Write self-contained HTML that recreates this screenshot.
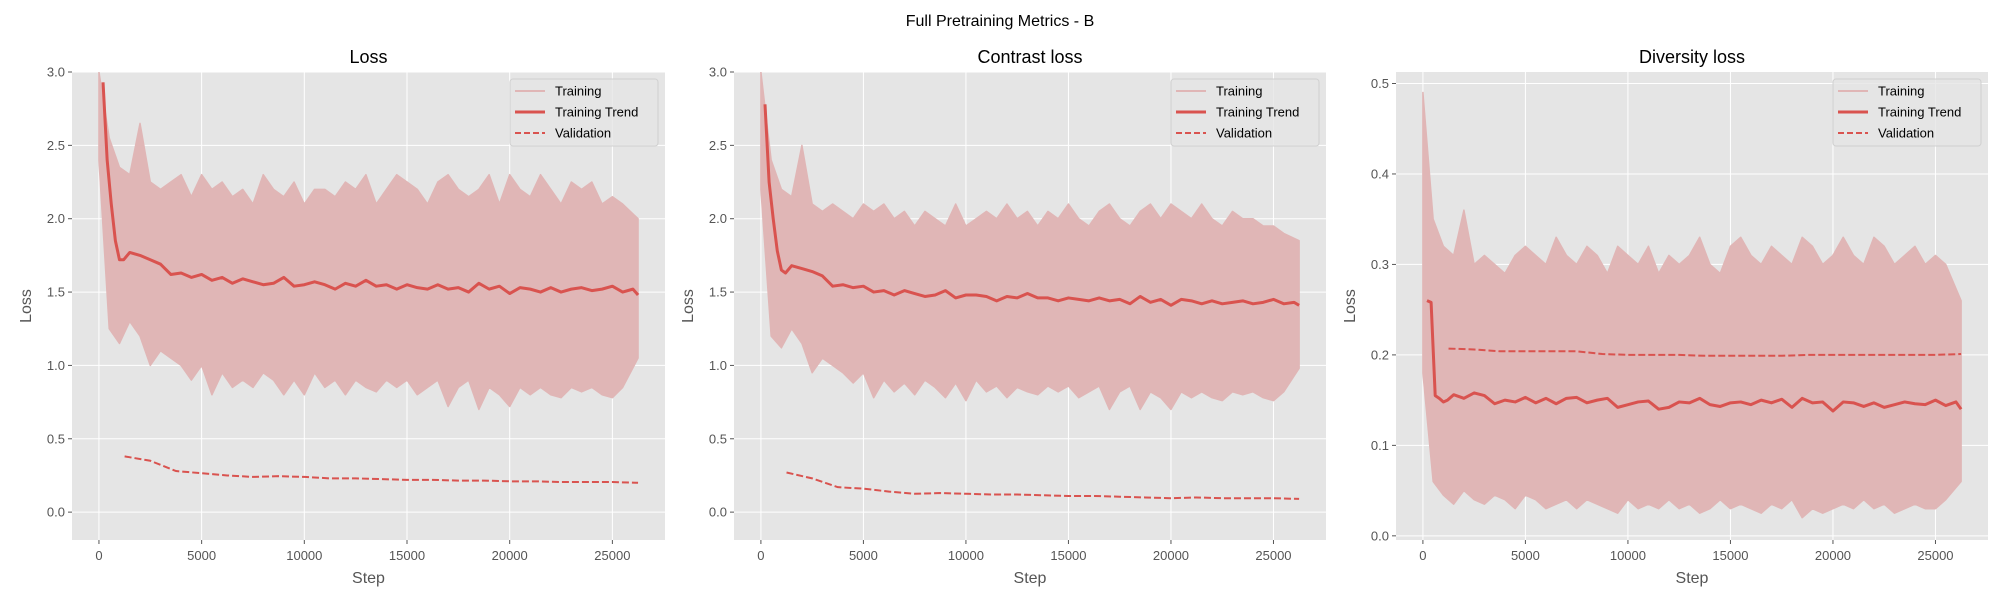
<!DOCTYPE html>
<html><head><meta charset="utf-8"><style>
html,body{margin:0;padding:0;background:#fff;}
svg{display:block;font-family:"Liberation Sans","DejaVu Sans",sans-serif;}
</style></head><body>
<svg id="fig" width="2000" height="600" viewBox="0 0 2000 600">
<text x="1000" y="26" text-anchor="middle" font-size="16" fill="#000">Full Pretraining Metrics - B</text>
</svg>
<script>
const trendSteps=[200,400,600,800,1000,1200,1500,2000,2500,3000,3500,4000,4500,5000,5500,6000,6500,7000,7500,8000,8500,9000,9500,10000,10500,11000,11500,12000,12500,13000,13500,14000,14500,15000,15500,16000,16500,17000,17500,18000,18500,19000,19500,20000,20500,21000,21500,22000,22500,23000,23500,24000,24500,25000,25500,26000,26250];
const valSteps=[1250,2500,3750,5000,6250,7500,8750,10000,11250,12500,13750,15000,16250,17500,18750,20000,21250,22500,23750,25000,26250];
const bandSteps=[0,500,1000,1500,2000,2500,3000,3500,4000,4500,5000,5500,6000,6500,7000,7500,8000,8500,9000,9500,10000,10500,11000,11500,12000,12500,13000,13500,14000,14500,15000,15500,16000,16500,17000,17500,18000,18500,19000,19500,20000,20500,21000,21500,22000,22500,23000,23500,24000,24500,25000,25500,26250];
const xTicks=[0,5000,10000,15000,20000,25000];

const lossHi=[3.0,2.55,2.35,2.3,2.65,2.25,2.2,2.25,2.3,2.15,2.3,2.2,2.25,2.15,2.2,2.1,2.3,2.2,2.15,2.25,2.1,2.2,2.2,2.15,2.25,2.2,2.3,2.1,2.2,2.3,2.25,2.2,2.1,2.25,2.3,2.2,2.15,2.2,2.3,2.1,2.3,2.2,2.15,2.3,2.2,2.1,2.25,2.2,2.25,2.1,2.15,2.1,2.0];
const lossLo=[2.4,1.25,1.15,1.3,1.2,1.0,1.1,1.05,1.0,0.9,1.0,0.8,0.95,0.85,0.9,0.85,0.95,0.9,0.8,0.9,0.8,0.95,0.85,0.9,0.8,0.9,0.85,0.82,0.9,0.85,0.9,0.8,0.85,0.9,0.72,0.85,0.9,0.7,0.85,0.8,0.72,0.85,0.8,0.85,0.8,0.78,0.85,0.82,0.85,0.8,0.78,0.85,1.05];
const lossTrend=[2.93,2.4,2.1,1.85,1.72,1.72,1.77,1.75,1.72,1.69,1.62,1.63,1.6,1.62,1.58,1.6,1.56,1.59,1.57,1.55,1.56,1.6,1.54,1.55,1.57,1.55,1.52,1.56,1.54,1.58,1.54,1.55,1.52,1.55,1.53,1.52,1.55,1.52,1.53,1.5,1.56,1.52,1.54,1.49,1.53,1.52,1.5,1.53,1.5,1.52,1.53,1.51,1.52,1.54,1.5,1.52,1.48];
const lossVal=[0.38,0.35,0.28,0.265,0.25,0.24,0.245,0.24,0.23,0.23,0.225,0.22,0.22,0.215,0.215,0.21,0.21,0.205,0.205,0.205,0.2];

const conHi=[3.0,2.4,2.2,2.15,2.5,2.1,2.05,2.1,2.05,2.0,2.1,2.05,2.1,2.0,2.05,1.95,2.05,2.0,1.95,2.1,1.95,2.0,2.05,2.0,2.1,2.0,2.05,1.95,2.05,2.0,2.1,2.0,1.95,2.05,2.1,2.0,1.95,2.05,2.1,2.0,2.1,2.05,2.0,2.1,2.0,1.95,2.05,2.0,2.0,1.95,1.95,1.9,1.85];
const conLo=[2.2,1.2,1.12,1.25,1.15,0.95,1.05,1.0,0.95,0.88,0.95,0.78,0.9,0.82,0.88,0.8,0.9,0.85,0.78,0.88,0.76,0.9,0.82,0.86,0.78,0.85,0.82,0.8,0.86,0.82,0.86,0.78,0.82,0.86,0.7,0.82,0.86,0.7,0.82,0.78,0.7,0.82,0.78,0.82,0.78,0.76,0.82,0.8,0.82,0.78,0.76,0.82,0.98];
const conTrend=[2.78,2.25,2.0,1.78,1.65,1.63,1.68,1.66,1.64,1.61,1.54,1.55,1.53,1.54,1.5,1.51,1.48,1.51,1.49,1.47,1.48,1.51,1.46,1.48,1.48,1.47,1.44,1.47,1.46,1.49,1.46,1.46,1.44,1.46,1.45,1.44,1.46,1.44,1.45,1.42,1.47,1.43,1.45,1.41,1.45,1.44,1.42,1.44,1.42,1.43,1.44,1.42,1.43,1.45,1.42,1.43,1.41];
const conVal=[0.27,0.23,0.17,0.16,0.14,0.125,0.13,0.125,0.12,0.12,0.115,0.11,0.11,0.105,0.1,0.095,0.1,0.095,0.095,0.095,0.09];

const divHi=[0.49,0.35,0.32,0.31,0.36,0.30,0.31,0.30,0.29,0.31,0.32,0.31,0.30,0.33,0.31,0.30,0.32,0.31,0.29,0.32,0.31,0.30,0.32,0.29,0.31,0.30,0.31,0.33,0.30,0.29,0.32,0.33,0.31,0.30,0.32,0.31,0.30,0.33,0.32,0.30,0.31,0.33,0.31,0.30,0.33,0.32,0.30,0.31,0.32,0.30,0.31,0.30,0.26];
const divLo=[0.18,0.06,0.045,0.035,0.05,0.04,0.035,0.045,0.04,0.03,0.045,0.04,0.03,0.035,0.04,0.03,0.04,0.035,0.03,0.025,0.04,0.03,0.035,0.03,0.04,0.03,0.035,0.025,0.03,0.04,0.03,0.035,0.03,0.025,0.035,0.03,0.04,0.02,0.03,0.025,0.03,0.035,0.03,0.04,0.03,0.035,0.025,0.03,0.035,0.03,0.03,0.04,0.06];
const divTrend=[0.26,0.258,0.155,0.152,0.148,0.15,0.156,0.152,0.158,0.155,0.146,0.15,0.148,0.153,0.147,0.152,0.146,0.152,0.153,0.147,0.15,0.152,0.142,0.145,0.148,0.149,0.14,0.142,0.148,0.147,0.152,0.145,0.143,0.147,0.148,0.145,0.15,0.147,0.151,0.142,0.152,0.147,0.148,0.138,0.148,0.147,0.143,0.147,0.142,0.145,0.148,0.146,0.145,0.15,0.144,0.148,0.14];
const divVal=[0.207,0.206,0.204,0.204,0.204,0.204,0.201,0.2,0.2,0.2,0.199,0.199,0.199,0.199,0.2,0.2,0.2,0.2,0.2,0.2,0.201];

const lossTicks=[0.0,0.5,1.0,1.5,2.0,2.5,3.0];
const divTicks=[0.0,0.1,0.2,0.3,0.4,0.5];

const NS="http://www.w3.org/2000/svg";
const svg=document.getElementById('fig');
function mk(tag,attrs,parent){const e=document.createElementNS(NS,tag);for(const k in attrs)e.setAttribute(k,attrs[k]);(parent||svg).appendChild(e);return e;}

const panels=[
 {key:'loss',title:'Loss',x0:72,x1:665,ymin:-0.19,ymax:3.0,yt:lossTicks,dec:1,hi:lossHi,lo:lossLo,tr:lossTrend,va:lossVal},
 {key:'contrast',title:'Contrast loss',x0:734,x1:1326,ymin:-0.19,ymax:3.0,yt:lossTicks,dec:1,hi:conHi,lo:conLo,tr:conTrend,va:conVal},
 {key:'diversity',title:'Diversity loss',x0:1396,x1:1988,ymin:-0.0046,ymax:0.5127,yt:divTicks,dec:1,hi:divHi,lo:divLo,tr:divTrend,va:divVal}
];
const Y0=72,Y1=540,XMIN=-1312,XMAX=27562;
const RED='#d9534f';
const BAND='#e0b6b6';

panels.forEach((p,pi)=>{
 const g=mk('g',{});
 
 
 const sx=v=>p.x0+(v-XMIN)/(XMAX-XMIN)*(p.x1-p.x0);
 const sy=v=>Y1-(v-p.ymin)/(p.ymax-p.ymin)*(Y1-Y0);
 const bg=mk('rect',{x:p.x0,y:Y0,width:p.x1-p.x0,height:Y1-Y0,fill:'#e5e5e5'},g);
 
 
 const cp=mk('clipPath',{id:'clip'+pi},g);
 mk('rect',{x:p.x0,y:Y0,width:p.x1-p.x0,height:Y1-Y0},cp);
 xTicks.forEach(t=>{
  const x=sx(t);
  mk('line',{x1:x,x2:x,y1:Y0,y2:Y1,stroke:'#fff','stroke-width':1},g);
  mk('line',{x1:x,x2:x,y1:Y1,y2:Y1+4,stroke:'#555','stroke-width':1},g);
  const tx=mk('text',{x:x,y:Y1+20,'text-anchor':'middle','font-size':13,fill:'#555'},g);
  tx.textContent=t;
  
  
 });
 p.yt.forEach(t=>{
  const y=sy(t);
  mk('line',{x1:p.x0,x2:p.x1,y1:y,y2:y,stroke:'#fff','stroke-width':1},g);
  mk('line',{x1:p.x0-4,x2:p.x0,y1:y,y2:y,stroke:'#555','stroke-width':1},g);
  const ty=mk('text',{x:p.x0-7,y:y+4.5,'text-anchor':'end','font-size':13,fill:'#555'},g);
  ty.textContent=t.toFixed(p.dec);
  
  
 });
 const d=mk('g',{'clip-path':'url(#clip'+pi+')'},g);
 let pts=[];
 bandSteps.forEach((s,i)=>pts.push(sx(s)+','+sy(p.hi[i])));
 for(let i=bandSteps.length-1;i>=0;i--)pts.push(sx(bandSteps[i])+','+sy(p.lo[i]));
 const band=mk('polygon',{points:pts.join(' '),fill:BAND,stroke:BAND,'stroke-width':1.5,'stroke-linejoin':'round'},d);
 
 
 const vp=valSteps.map((s,i)=>sx(s)+','+sy(p.va[i])).join(' ');
 const vl=mk('polyline',{points:vp,fill:'none',stroke:RED,'stroke-width':2,'stroke-dasharray':'7,3'},d);
 
 
 const tp=trendSteps.map((s,i)=>sx(s)+','+sy(p.tr[i])).join(' ');
 const tl=mk('polyline',{points:tp,fill:'none',stroke:RED,'stroke-width':3,'stroke-linejoin':'round'},d);
 
 
 const cx=(p.x0+p.x1)/2;
 const tt=mk('text',{x:cx,y:63,'text-anchor':'middle','font-size':18,fill:'#000'},g);
 tt.textContent=p.title;
 
 
 const xl=mk('text',{x:cx,y:583,'text-anchor':'middle','font-size':16,fill:'#555'},g);
 xl.textContent='Step';
 
 
 const yl=mk('text',{x:0,y:0,'text-anchor':'middle','font-size':16,fill:'#555',transform:'translate('+(p.x0-41)+','+((Y0+Y1)/2)+') rotate(-90)'},g);
 yl.textContent='Loss';
 
 
 const lx=p.x1-155,ly=79;
 const lg=mk('g',{},g);
 
 
 mk('rect',{x:lx,y:ly,width:148,height:67,rx:3,fill:'#e5e5e5',stroke:'#d0d0d0','stroke-width':1,'fill-opacity':0.8},lg);
 const items=[['Training',BAND,2,''],['Training Trend',RED,3,''],['Validation',RED,2,'6,3']];
 items.forEach((it,i)=>{
  const y=ly+12+i*21;
  const e=mk('g',{},lg);
  
  
  const ln=mk('line',{x1:lx+5,x2:lx+35,y1:y,y2:y,stroke:it[1],'stroke-width':it[2]},e);
  if(it[3])ln.setAttribute('stroke-dasharray',it[3]);
  const t=mk('text',{x:lx+45,y:y+4.5,'font-size':13,fill:'#000'},e);
  t.textContent=it[0];
 });
});
</script>
</body></html>
